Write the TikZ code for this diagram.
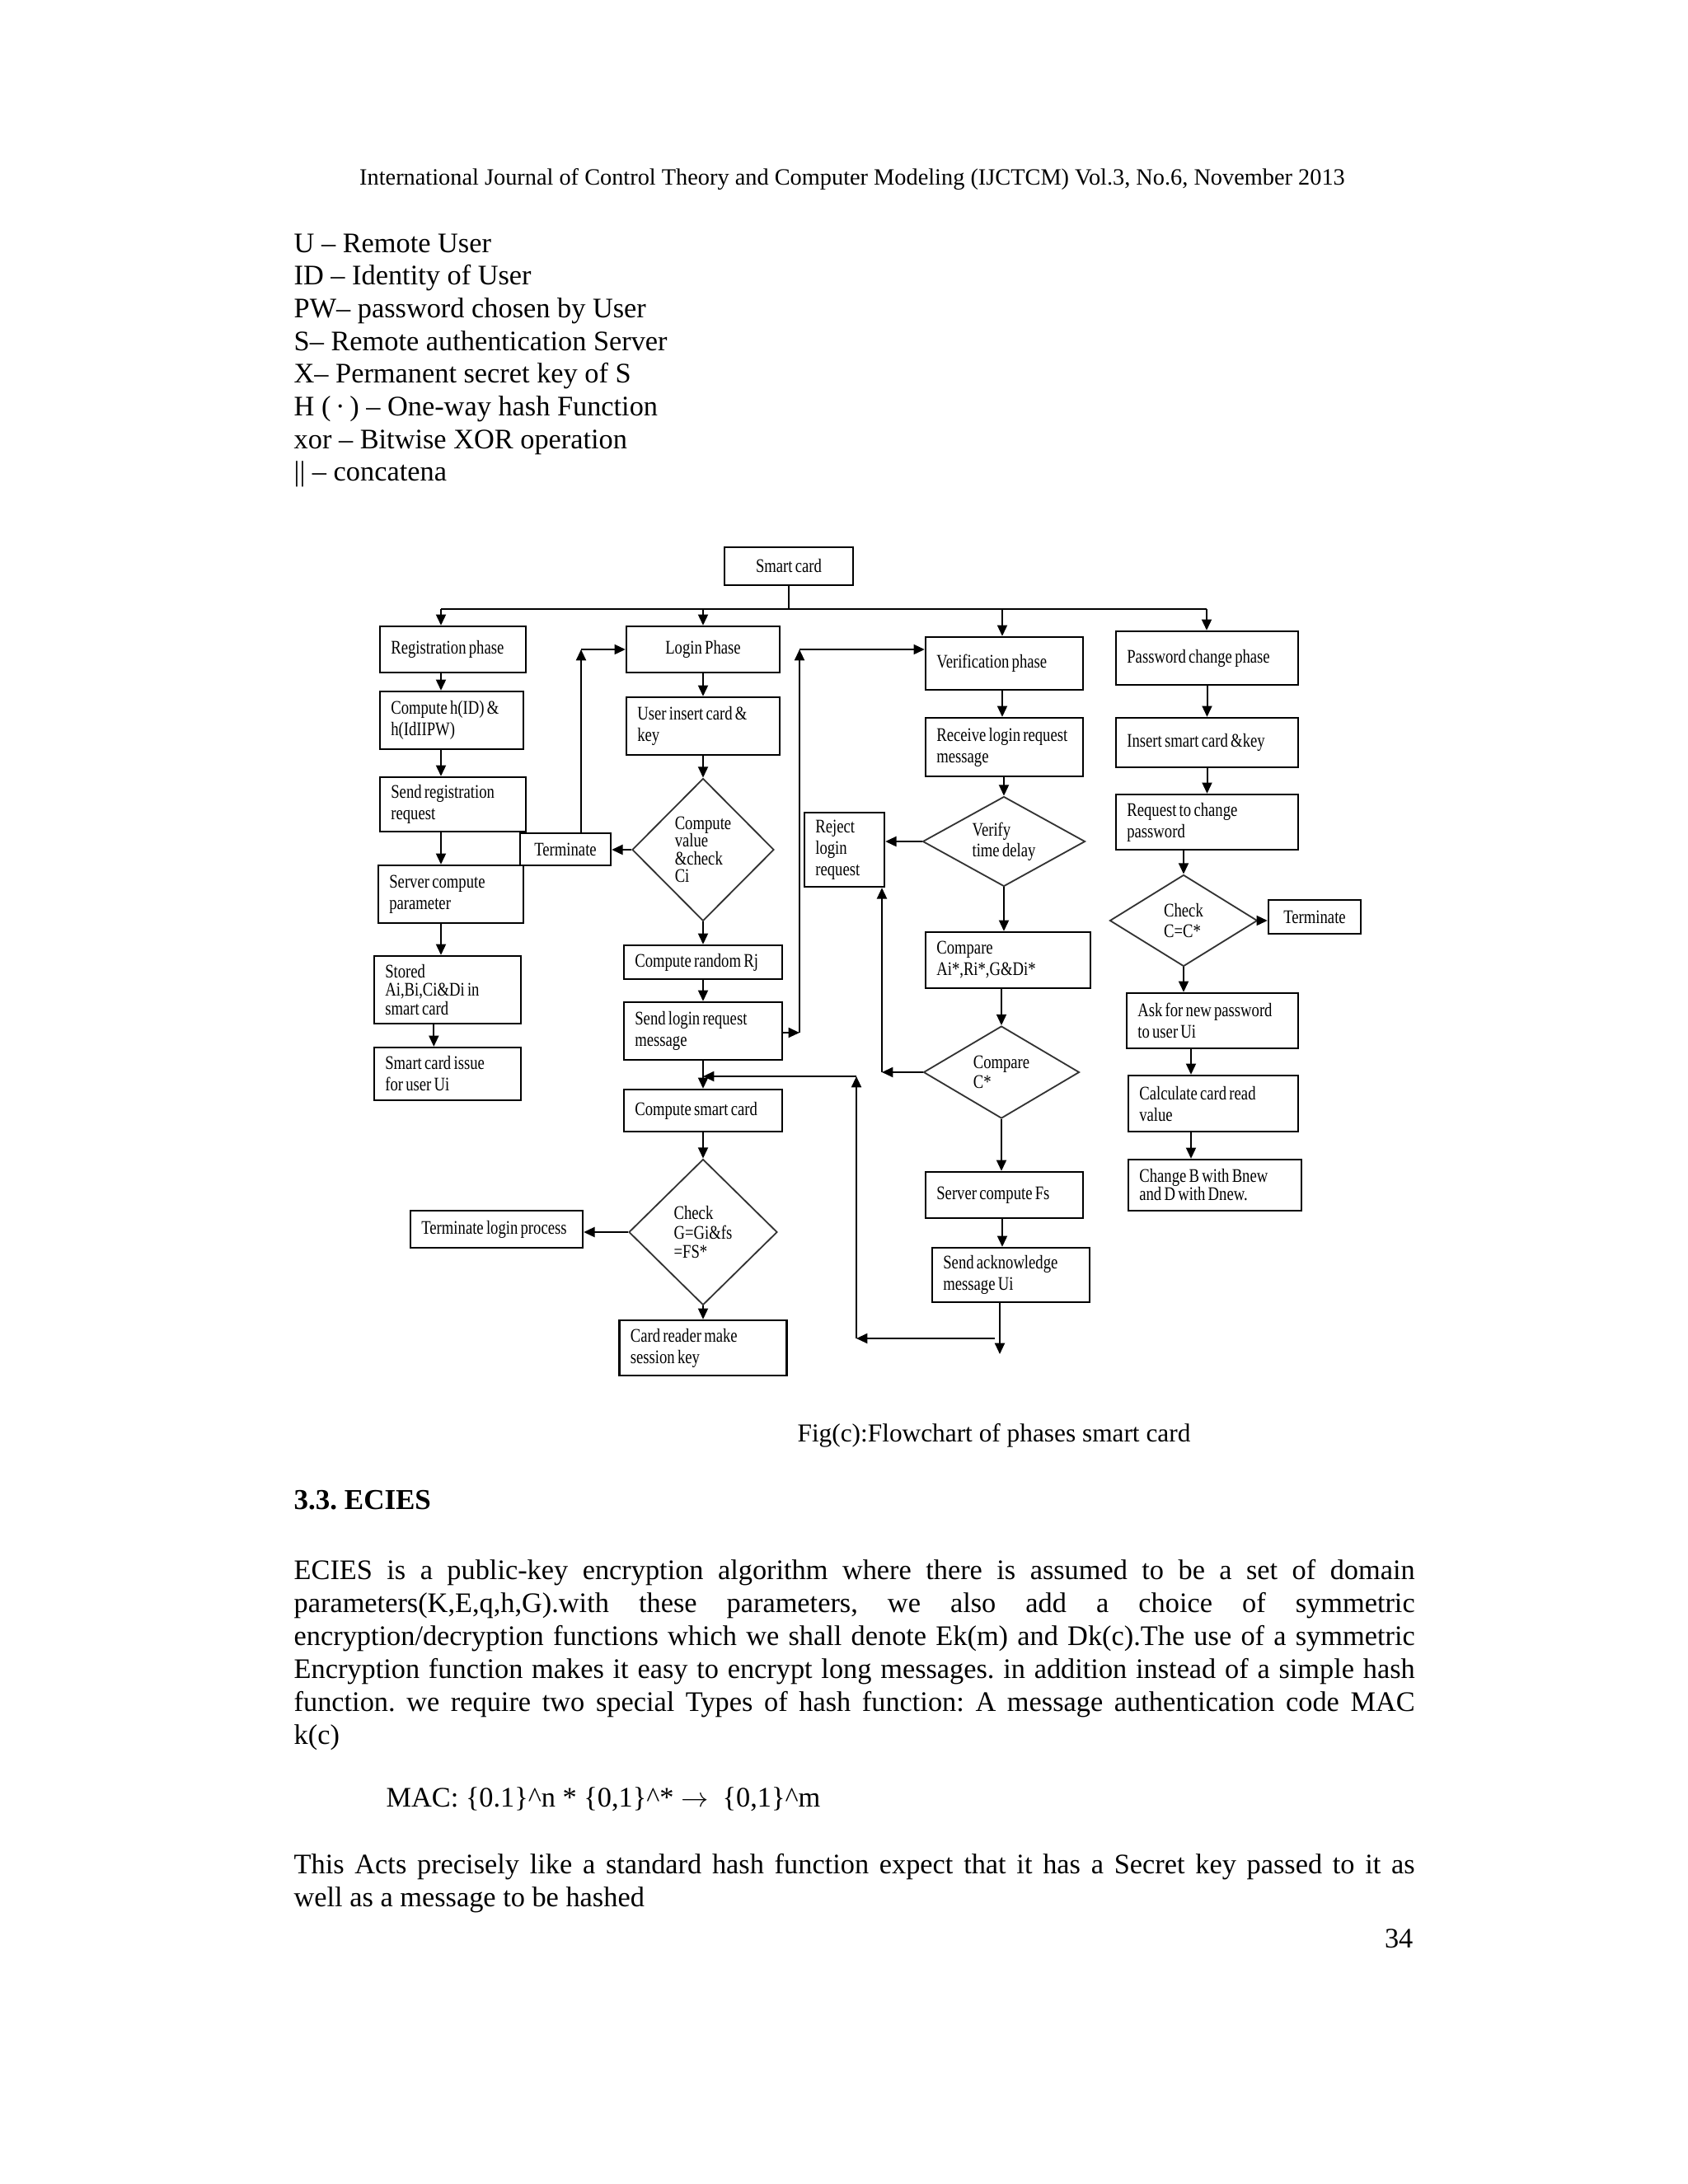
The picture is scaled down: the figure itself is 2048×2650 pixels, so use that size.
\documentclass[tikz,border=0pt]{standalone}
\usepackage{fontspec}
\setmainfont{Liberation Serif}
\newfontfamily\bxfam[FakeStretch=0.8, WordSpace=0.7]{Liberation Serif}
\usetikzlibrary{arrows.meta,shapes.geometric}
\newcommand{\boxfont}{\bxfam\fontsize{7}{7.8}\selectfont\hyphenpenalty=10000 }
\newcommand{\decfont}{\bxfam\fontsize{7}{7}\selectfont}
\newcommand{\jline}[1]{\makebox[408pt][s]{#1}}
\frenchspacing

\begin{document}
\begin{tikzpicture}[x=0.3pt, y=-0.3pt,
    pbox/.style 2 args={draw, line width=0.7pt, font=\boxfont, align=flush left, inner xsep=4pt, inner ysep=1pt, text width=#1, minimum height=#2},
    cbox/.style 2 args={draw, line width=0.7pt, font=\boxfont, align=center, inner sep=1pt, minimum width=#1, minimum height=#2},
    dec/.style={diamond, draw=black!80, line width=0.55pt, font=\decfont, align=left, inner sep=0pt},
    arr/.style={line width=0.6pt, -{Triangle[length=4pt,width=3.6pt]}},
    lin/.style={line width=0.6pt},
    body/.style={font=\fontsize{10.3}{11.9}\selectfont, inner sep=0pt, align=left}
  ]
  \useasboundingbox[fill=white] (0,0) rectangle (2048,2650);

  % page text above the chart
  \node[font=\fontsize{8.5}{10}\selectfont] (hdr) at (1034,218) {International Journal of Control Theory and Computer Modeling (IJCTCM) Vol.3, No.6, November 2013};
  \node[body, anchor=north west] (legend) at (356,283) {U – Remote User\\ID – Identity of User\\PW– password chosen by User\\S– Remote authentication Server\\X– Permanent secret key of S\\H (\,·\,) – One-way hash Function\\xor – Bitwise XOR operation\\|| – concatena};

  % top of the chart
  \node[cbox={46.8pt}{13.8pt}] (smart) at (957,687) {Smart card};
  \coordinate (busL) at (535,739);
  \coordinate (busR) at (1464,739);
  \coordinate (vcol) at (1216,739);

  % registration phase
  \node[pbox={45.1pt}{16.8pt}] (reg) at (549.5,788) {Registration phase};
  \node[pbox={44.2pt}{21pt}] (hid) at (548,874) {Compute h(ID) \&\\h(IdIIPW)};
  \node[pbox={45.1pt}{19.8pt}] (sendreg) at (549.5,976) {Send registration\\request};
  \node[pbox={44.8pt}{21pt}] (srvpar) at (547,1085) {Server compute\\parameter};
  \node[pbox={45.4pt}{24.6pt}, font=\bxfam\fontsize{7}{6.6}\selectfont] (stored) at (543,1201) {Stored\\Ai,Bi,Ci\&Di in\\smart card};
  \node[pbox={45.4pt}{19.2pt}] (issue) at (543,1303) {Smart card issue\\for user Ui};
  \node[cbox={33pt}{11.7pt}] (termL) at (686,1030.5) {Terminate};

  % login phase
  \node[cbox={55.8pt}{16.8pt}] (login) at (853,788) {Login Phase};
  \node[pbox={47.8pt}{21pt}] (insert) at (853,881) {User insert card \&\\key};
  \node[dec, minimum width=51.6pt, minimum height=51.9pt, font=\bxfam\fontsize{7}{6.4}\selectfont] (cval) at (853,1031) {Compute\\value\\\&check\\Ci};
  \node[pbox={49.6pt}{12.3pt}] (rand) at (853,1167.5) {Compute random Rj};
  \node[pbox={49.6pt}{21pt}] (sendlog) at (853,1251) {Send login request\\message};
  \node[pbox={49.6pt}{15.3pt}] (csmart) at (853,1347.5) {Compute smart card};
  \node[dec, minimum width=54pt, minimum height=53.1pt] (chk) at (853,1495) {Check\\G=Gi\&fs\\=FS*};
  \node[pbox={54.7pt}{13.5pt}] (termlog) at (602.5,1491.5) {Terminate login process};
  \node[pbox={52.9pt}{20.1pt}] (cardrd) at (853,1635.5) {Card reader make\\session key};

  % verification phase
  \node[pbox={21.1pt}{27pt}] (reject) at (1024.5,1031) {Reject\\login\\request};
  \node[pbox={49.3pt}{19.2pt}] (verif) at (1218.5,805) {Verification phase};
  \node[pbox={49.3pt}{21.3pt}] (recv) at (1218.5,906.5) {Receive login request\\message};
  \node[dec, aspect=1.8, minimum width=59.1pt, minimum height=32.7pt, font=\bxfam\fontsize{7}{7.5}\selectfont] (vtd) at (1218,1021) {Verify\\time delay};
  \node[pbox={52pt}{20.4pt}] (cmp) at (1223,1165) {Compare\\Ai*,Ri*,G\&Di*};
  \node[dec, aspect=1.7, minimum width=56.7pt, minimum height=33.6pt] (cstar) at (1215,1301) {Compare\\C*};
  \node[pbox={49.3pt}{16.8pt}] (srvfs) at (1218.5,1450) {Server compute Fs};
  \node[pbox={49.3pt}{19.8pt}] (ack) at (1226.5,1547) {Send acknowledge\\message Ui};

  % password change phase
  \node[pbox={58.3pt}{19.5pt}] (pwd) at (1464.5,798.5) {Password change phase};
  \node[pbox={58.3pt}{18pt}] (ins) at (1464.5,901) {Insert smart card \&key};
  \node[pbox={58.3pt}{20.1pt}] (req) at (1464.5,997.5) {Request to change\\password};
  \node[dec, aspect=1.6, minimum width=53.7pt, minimum height=33.3pt, font=\bxfam\fontsize{7}{7.5}\selectfont] (chkc) at (1436,1117) {Check\\C=C*};
  \node[cbox={33.6pt}{12.3pt}] (termR) at (1595,1112.5) {Terminate};
  \node[pbox={54.4pt}{20.1pt}] (ask) at (1471,1238.5) {Ask for new password\\to user Ui};
  \node[pbox={53.8pt}{20.4pt}] (calc) at (1472,1339) {Calculate card read\\value};
  \node[pbox={55pt}{18.6pt}, font=\bxfam\fontsize{7}{6.6}\selectfont] (chg) at (1474,1438) {Change B with Bnew\\and D with Dnew.};
  \coordinate (pcol) at (1445,1290);

  % bus from the smart card
  \draw[lin] (smart.south) -- (smart.south |- busL);
  \draw[lin] (busL) -- (busR);
  \draw[arr] (busL) -- (busL |- reg.north);
  \draw[arr] (login.north |- busL) -- (login.north);
  \draw[arr] (vcol) -- (vcol |- verif.north);
  \draw[arr] (busR) -- (busR |- pwd.north);

  % registration arrows
  \draw[arr] (reg.south -| busL) -- (hid.north -| busL);
  \draw[arr] (hid.south -| busL) -- (sendreg.north -| busL);
  \draw[arr] (sendreg.south -| busL) -- (srvpar.north -| busL);
  \draw[arr] (srvpar.south -| busL) -- (stored.north -| busL);
  \draw[arr] ([xshift=-5pt]stored.south) -- ([xshift=-5pt]issue.north);

  % login arrows
  \draw[arr] (login) -- (insert);
  \draw[arr] (insert) -- (cval);
  \draw[arr] (cval) -- (rand);
  \draw[arr] (rand) -- (sendlog);
  \draw[arr] (sendlog) -- (csmart);
  \draw[arr] (csmart) -- (chk);
  \draw[arr] (chk) -- (cardrd);
  \draw[arr] (cval.west) -- (cval.west -| termL.east);
  \draw[arr] (chk.west) -- (chk.west -| termlog.east);
  \coordinate (tcor) at (705,788);
  \draw[arr] (termL.north -| tcor) -- (tcor);
  \draw[arr] (tcor) -- (tcor -| login.west);
  \coordinate (lc1) at (970,1253);
  \coordinate (lc2) at (970,788);
  \draw[arr] (sendlog.east |- lc1) -- (lc1);
  \draw[arr] (lc1) -- (lc2);
  \draw[arr] (lc2) -- (lc2 -| verif.west);

  % verification arrows
  \draw[arr] (verif.south -| vcol) -- (recv.north -| vcol);
  \draw[arr] (recv.south -| vtd.north) -- (vtd.north);
  \draw[arr] (vtd.south) -- (vtd.south |- cmp.north);
  \draw[arr] (cmp.south -| cstar.north) -- (cstar.north);
  \draw[arr] (cstar.south) -- (cstar.south |- srvfs.north);
  \draw[arr] (srvfs.south -| vcol) -- (ack.north -| vcol);
  \draw[arr] (vtd.west) -- (vtd.west -| reject.east);
  \coordinate (rcor) at (1070,1301);
  \draw[arr] (cstar.west) -- (rcor);
  \draw[arr] (rcor) -- (rcor |- reject.south);
  \coordinate (ackend) at (1213,1643);
  \draw[arr] (ack.south -| ackend) -- (ackend);
  \coordinate (fb1) at (1207,1624);
  \coordinate (fb2) at (1039,1624);
  \coordinate (fb3) at (1039,1306);
  \draw[arr] (fb1) -- (fb2);
  \draw[arr] (fb2) -- (fb3);
  \draw[arr] (fb3) -- (fb3 -| sendlog.south);

  % password change arrows
  \draw[arr] (pwd) -- (ins);
  \draw[arr] (ins) -- (req);
  \draw[arr] (req.south -| chkc.north) -- (chkc.north);
  \draw[arr] (chkc.south) -- (chkc.south |- ask.north);
  \draw[arr] (chkc.east) -- (chkc.east -| termR.west);
  \draw[arr] (ask.south -| pcol) -- (calc.north -| pcol);
  \draw[arr] (calc.south -| pcol) -- (chg.north -| pcol);

  % page text below the chart
  \node[font=\fontsize{9.4}{11}\selectfont] (cap) at (1206,1742) {Fig(c):Flowchart of phases smart card};
  \node[font=\bfseries\fontsize{10.5}{12}\selectfont, anchor=west, inner sep=0pt] (sec) at (356,1820) {3.3. ECIES};
  \node[body, anchor=north west, font=\fontsize{10.3}{12}\selectfont] (ecies) at (356,1892) {\jline{ECIES is a public-key encryption algorithm where there is assumed to be a set of domain}\\\jline{parameters(K,E,q,h,G).with these parameters, we also add a choice of symmetric}\\\jline{encryption/decryption functions which we shall denote Ek(m) and Dk(c).The use of a symmetric}\\\jline{Encryption function makes it easy to encrypt long messages. in addition instead of a simple hash}\\\jline{function. we require two special Types of hash function: A message authentication code MAC}\\k(c)};
  \node[body, anchor=west] (mac) at (468,2183) {MAC: \{0.1\}\textasciicircum n * \{0,1\}\textasciicircum * $\rightarrow$\ \ \{0,1\}\textasciicircum m};
  \node[body, anchor=north west, font=\fontsize{10.3}{12}\selectfont] (acts) at (356,2249) {\jline{This Acts precisely like a standard hash function expect that it has a Secret key passed to it as}\\well as a message to be hashed};
  \node[body, anchor=east] (pgno) at (1715,2352) {34};
\end{tikzpicture}
\end{document}
